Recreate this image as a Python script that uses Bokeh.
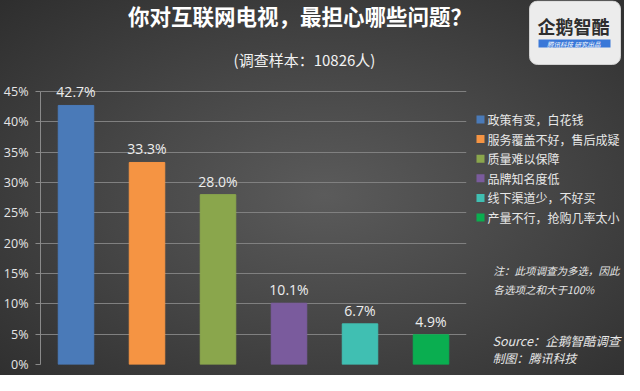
from bokeh.plotting import figure
from bokeh.layouts import column, row
from bokeh.models import (ColumnDataSource, NumeralTickFormatter, FixedTicker, Range1d)
from bokeh.core.properties import value
from bokeh.embed import file_html
from bokeh.resources import INLINE

# ---- data ----
categories = ["政策有变，白花钱", "服务覆盖不好，售后成疑", "质量难以保障",
              "品牌知名度低", "线下渠道少，不好买", "产量不行，抢购几率太小"]
shares = [0.427, 0.333, 0.280, 0.101, 0.067, 0.049]
share_labels = ["42.7%", "33.3%", "28.0%", "10.1%", "6.7%", "4.9%"]
colors = ["#4a7ab8", "#f59443", "#8aa64c", "#7a5b9d", "#40bfb2", "#0aae50"]
y_ticks = [0, 0.05, 0.10, 0.15, 0.20, 0.25, 0.30, 0.35, 0.40, 0.45]
y_max = 0.45

title_text = "你对互联网电视，最担心哪些问题？"
subtitle_text = "(调查样本：10826人)"
note_lines = ["注：此项调查为多选，因此", "各选项之和大于100%"]
source_lines = ["Source：企鹅智酷调查", "制图：腾讯科技"]
logo_name = "企鹅智酷"
logo_tag = "腾讯科技  研究出品"

CJK = "Noto Sans CJK SC"
LATIN = "Open Sans"

W, H = 624, 375
TOP_H = 80
CHART_W = 468
SIDE_W = W - CHART_W
BODY_H = H - TOP_H


def blank(width, height):
    f = figure(width=width, height=height, x_range=Range1d(0, width),
               y_range=Range1d(height, 0),
               output_backend="svg", toolbar_location=None,
               min_border=0, min_border_left=0, min_border_right=0,
               min_border_top=0, min_border_bottom=0)
    f.axis.visible = False
    f.grid.visible = False
    f.outline_line_color = None
    f.border_fill_color = None
    f.background_fill_color = None
    return f


# ---- top: title, subtitle, logo ----
top = blank(W, TOP_H)
top.text(x=[299.5], y=[15], text=[title_text], text_align="center", text_baseline="middle",
         text_color="#ffffff", text_font=value(CJK), text_font_style="bold",
         text_font_size="21.5px")
top.text(x=[304], y=[59], text=[subtitle_text], text_align="center", text_baseline="middle",
         text_color="#f2f2f2", text_font=value(CJK), text_font_size="15px")
top.quad(left=[529], right=[620], top=[0.5], bottom=[64], fill_color="#ececec",
         line_color="#d0d0d0", border_radius=8)
top.quad(left=[538], right=[610], top=[39], bottom=[47], fill_color="#3a78d8", line_color=None)
top.text(x=[573], y=[25], text=[logo_name], text_align="center", text_baseline="middle",
         text_color="#2e2e2e", text_font=value(CJK), text_font_style="bold",
         text_font_size="18px")
top.text(x=[574], y=[43.5], text=[logo_tag], text_align="center", text_baseline="middle",
         text_color="#ffffff", text_font=value(CJK), text_font_style="italic",
         text_font_size="6.5px")

# ---- chart ----
FRAME_TOP_PAD = 2
BOTTOM_PAD = 11
frame_h = BODY_H - FRAME_TOP_PAD - BOTTOM_PAD          # 282 px
px_45 = 273                                             # pixels from 0% to 45%
src = ColumnDataSource(dict(cat=categories, share=shares, lab=share_labels, color=colors))

p = figure(width=CHART_W, height=BODY_H, x_range=categories,
           y_range=Range1d(0, y_max * frame_h / px_45),
           output_backend="svg", toolbar_location=None,
           min_border_left=32, min_border_right=2, min_border_top=FRAME_TOP_PAD,
           min_border_bottom=BOTTOM_PAD)
p.border_fill_color = None
p.background_fill_color = None
p.outline_line_color = None
p.x_range.range_padding = 0

p.vbar(x="cat", top="share", width=0.5, color="color", source=src)
p.text(x="cat", y="share", text="lab", source=src, text_align="center",
       text_baseline="bottom", y_offset=-4, text_color="#ededed",
       text_font=value(LATIN), text_font_size="14px")

p.xaxis.visible = False

p.yaxis.bounds = (0, y_max)
p.yaxis.ticker = FixedTicker(ticks=y_ticks)
p.yaxis.formatter = NumeralTickFormatter(format="0%")
p.yaxis.axis_line_color = "#8a8a8a"
p.yaxis.major_tick_line_color = "#8a8a8a"
p.yaxis.major_tick_out = 5
p.yaxis.major_tick_in = 0
p.yaxis.minor_tick_line_color = None
p.yaxis.major_label_standoff = 7
p.yaxis.major_label_text_color = "#e6e6e6"
p.yaxis.major_label_text_font = LATIN
p.yaxis.major_label_text_font_size = "12.5px"

p.xgrid.grid_line_color = None
p.ygrid.grid_line_color = "#808080"
p.ygrid.grid_line_width = 1

# ---- side: legend and notes (local coords = page - (476, 88)) ----
side = blank(SIDE_W, BODY_H)
row_y = [38.7 + 20.5 * i for i in range(len(categories))]
side.scatter(x=[12] * len(categories), y=row_y, marker="square", size=8,
             fill_color=colors, line_color=None)
side.text(x=[19] * len(categories), y=row_y, text=categories, text_align="left",
          text_baseline="middle", text_color="#e8e8e8", text_font=value(CJK),
          text_font_size="12px")
side.text(x=[25, 25], y=[197, 217], text=note_lines, text_align="left",
          text_baseline="middle", text_color="#e6e6e6", text_font=value(CJK),
          text_font_style="italic", text_font_size="10.5px")
side.text(x=[24], y=[270], text=[source_lines[0]], text_align="left",
          text_baseline="middle", text_color="#e6e6e6", text_font=value(CJK),
          text_font_style="italic", text_font_size="12.5px")
side.text(x=[24], y=[288], text=[source_lines[1]], text_align="left",
          text_baseline="middle", text_color="#e6e6e6", text_font=value(CJK),
          text_font_style="italic", text_font_size="12px")

layout = column(top, row(p, side, spacing=0), spacing=0)
layout.styles = {"background": "radial-gradient(ellipse at 52% 52%, #5b5b5b 0%, #474747 45%, #2e2e2e 100%)"}

open("out.html", "w").write(file_html(layout, INLINE))
